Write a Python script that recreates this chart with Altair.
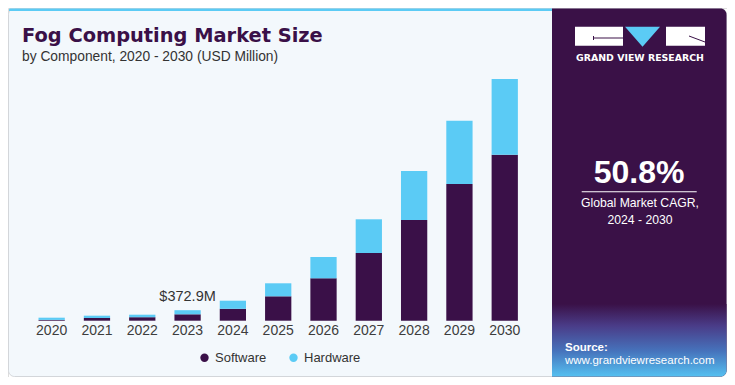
import altair as alt
import pandas as pd

# ---- data (USD Million) ----
years = ["2020", "2021", "2022", "2023", "2024", "2025", "2026", "2027", "2028", "2029", "2030"]
software = [28, 96, 124, 227, 422, 866, 1505, 2403, 3575, 4853, 5893]
hardware = [79, 82, 89, 145.9, 288, 462, 756, 1197, 1739, 2247, 2687]
series = ["Software", "Hardware"]
series_colors = ["#3A1048", "#5BCBF5"]
annot_year = ["2023"]
annot_value = [372.9]
annot_label = ["$372.9M"]

title_text = "Fog Computing Market Size"
subtitle_text = "by Component, 2020 - 2030 (USD Million)"
cagr_text = "50.8%"
cagr_lines = ["Global Market CAGR,", "2024 - 2030"]
brand_text = "GRAND VIEW RESEARCH"
source_title = "Source:"
source_url = "www.grandviewresearch.com"

rows = []
for i, yr in enumerate(years):
    rows.append({"year": yr, "component": "Software", "value": software[i], "order": 0})
    rows.append({"year": yr, "component": "Hardware", "value": hardware[i], "order": 1})
df = pd.DataFrame(rows)

W, H = 719, 369
FONT = "Liberation Sans"
PURPLE = "#3A1147"
BLUE = "#5BCBF5"

x_scale = alt.Scale(domain=years, range=[21.0, 519.4], paddingInner=0.42, paddingOuter=0.21)
y_scale = alt.Scale(domain=[0, 11101], range=[312.7, 0], nice=False, zero=True)

one = alt.Data(values=[{}])


def rect(x, x2, y, y2, **kw):
    return alt.Chart(one).mark_rect(**kw).encode(
        x=alt.value(x), x2=alt.value(x2), y=alt.value(y), y2=alt.value(y2)
    )


def text(x, y, s, **kw):
    return alt.Chart(one).mark_text(text=s, **kw).encode(x=alt.value(x), y=alt.value(y))


# card + panels
card = rect(0.5, 718.5, 0.5, 368.5, fill="#F3F8FC", stroke="#D3D6DA", strokeWidth=1, cornerRadius=6)
stripe = rect(1, 544, 0.5, 3, color=BLUE, cornerRadiusTopLeft=5)
panel = rect(544, 718.5, 0.5, 368.5, color=PURPLE, cornerRadiusTopRight=6, cornerRadiusBottomRight=6)
grad = rect(
    544, 718.5, 296, 368.5,
    color=alt.Gradient(
        gradient="linear",
        stops=[
            alt.GradientStop(color=PURPLE, offset=0),
            alt.GradientStop(color="#4A3C88", offset=0.3),
            alt.GradientStop(color="#4673BC", offset=0.65),
            alt.GradientStop(color="#55C0F0", offset=1),
        ],
        x1=0, x2=0, y1=0, y2=1,
    ),
    cornerRadiusBottomRight=6,
)

# logo
logo_l = rect(567, 615, 18.7, 37.7, color="white")
logo_g1 = rect(585, 615, 29.5, 30.5, color=PURPLE)
logo_g2 = rect(585, 586, 28, 32, color=PURPLE)
logo_r = rect(658, 697, 18.7, 37.7, color="white")
logo_r1 = alt.Chart(one).mark_rule(color=PURPLE, strokeWidth=1).encode(
    x=alt.value(681), x2=alt.value(697), y=alt.value(28), y2=alt.value(34)
)
logo_tri = alt.Chart(one).mark_point(
    shape="M-1,-0.57L1,-0.57L0,0.57Z", filled=True, color=BLUE, opacity=1, size=1225
).encode(x=alt.value(634.5), y=alt.value(28.7))
brand = text(632, 50.3, brand_text, font="DejaVu Sans", fontWeight="bold", fontSize=9.4,
             color="white", align="center", baseline="middle")

cagr = text(631, 174.7, cagr_text, font=FONT, fontWeight="bold", fontSize=32,
            color="white", align="center", baseline="alphabetic")
cagr_line = rect(573.7, 688.7, 183.2, 184.2, color="white")
cagr1 = text(632, 195.3, cagr_lines[0], font=FONT, fontSize=12.2, color="white",
             align="center", baseline="middle")
cagr2 = text(632, 212, cagr_lines[1], font=FONT, fontSize=12.2, color="white",
             align="center", baseline="middle")
src1 = text(557, 342.7, source_title, font=FONT, fontWeight="bold", fontSize=11.5,
            color="white", align="left", baseline="alphabetic")
src2 = text(557, 356, source_url, font=FONT, fontSize=11.5, color="white",
            align="left", baseline="alphabetic")

title = text(14, 33.7, title_text, font="DejaVu Sans", fontWeight="bold", fontSize=19.4,
             color="#3A1048", align="left", baseline="alphabetic")
subtitle = text(14, 53, subtitle_text, font=FONT, fontSize=13.8, color="#333333",
                align="left", baseline="alphabetic")

bars = alt.Chart(df).mark_bar().encode(
    x=alt.X("year:N", scale=x_scale, axis=None),
    y=alt.Y("value:Q", scale=y_scale, axis=None, stack="zero"),
    color=alt.Color(
        "component:N",
        scale=alt.Scale(domain=series, range=series_colors),
        legend=alt.Legend(
            title=None, orient="none", legendX=190, legendY=343, direction="horizontal",
            symbolType="circle", symbolSize=70, symbolStrokeWidth=0,
            labelFontSize=13, labelFont=FONT, labelColor="#333333",
            columnPadding=20, labelOffset=4, padding=0,
        ),
    ),
    order=alt.Order("order:Q"),
)

year_labels = alt.Chart(pd.DataFrame({"year": years})).mark_text(
    font=FONT, fontSize=14, color="#3d3d3d", baseline="middle"
).encode(
    x=alt.X("year:N", scale=x_scale, axis=None),
    y=alt.value(323.3),
    text="year:N",
)

annot = alt.Chart(pd.DataFrame({"year": annot_year, "value": annot_value, "label": annot_label})).mark_text(
    font=FONT, fontSize=14.5, color="#333333", baseline="alphabetic", dy=-9.5
).encode(
    x=alt.X("year:N", scale=x_scale, axis=None),
    y=alt.Y("value:Q", scale=y_scale, axis=None),
    text="label:N",
)

chart = alt.layer(
    card, stripe, panel, grad,
    logo_l, logo_g1, logo_g2, logo_r, logo_r1, logo_tri, brand,
    cagr, cagr_line, cagr1, cagr2, src1, src2,
    title, subtitle,
    bars, year_labels, annot,
).properties(
    width=W, height=H, autosize=alt.AutoSizeParams(type="none"), padding=0
).configure_view(stroke=None).configure(background="white")

chart.save("out.html", embed_options={"renderer": "svg", "actions": False})
